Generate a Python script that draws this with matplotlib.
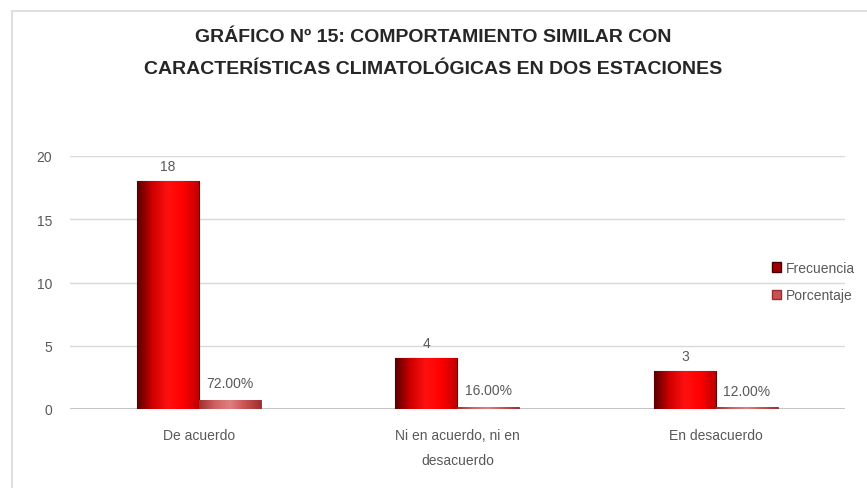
import numpy as np
import matplotlib
matplotlib.use("Agg")
from matplotlib import pyplot as plt
from matplotlib.patches import Rectangle

categories = ["De acuerdo", "Ni en acuerdo, ni en\ndesacuerdo", "En desacuerdo"]
frecuencia = [18, 4, 3]
porcentaje = [0.72, 0.16, 0.12]
porcentaje_labels = ["72.00%", "16.00%", "12.00%"]
y_ticks = [0, 5, 10, 15, 20]

plt.rcParams['font.family'] = ['Liberation Sans', 'DejaVu Sans']

fig = plt.figure(figsize=(8.67, 4.89), dpi=100)
fig.patches.append(Rectangle((12 / 867, -0.1), 1.2, 1 - 12 / 489 + 0.1,
                             transform=fig.transFigure, fill=False,
                             edgecolor="#d9d9d9", linewidth=1.2))

ax = fig.add_axes([70 / 867, 1 - 410 / 489, (845 - 70) / 867, (410 - 157) / 489])

x = np.arange(len(categories))
width = 0.24

bars_f = ax.bar(x - width / 2, frecuencia, width, color="#ff0000",
                edgecolor="#5a0000", linewidth=0.8, zorder=3, label="Frecuencia")
bars_p = ax.bar(x + width / 2, porcentaje, width, color="#c0504d",
                edgecolor="#8b2b2b", linewidth=0.6, zorder=3, label="Porcentaje")

# shading to mimic the cylinder-like look
grad = np.linspace(0, 1, 100).reshape(1, -1)
cmap_f = matplotlib.colors.LinearSegmentedColormap.from_list(
    "f", ["#5a0000", "#d00000", "#ff1010", "#ff0000", "#c00000"])
cmap_p = matplotlib.colors.LinearSegmentedColormap.from_list(
    "p", ["#a03030", "#d06060", "#e08080", "#c85050", "#a03030"])
for bars, cm in ((bars_f, cmap_f), (bars_p, cmap_p)):
    for b in bars:
        bx, by = b.get_x(), b.get_y()
        im = ax.imshow(grad, cmap=cm, aspect="auto", zorder=3.5,
                       extent=(bx, bx + b.get_width(), by, by + b.get_height()))
        im.set_clip_path(b)

for b, v in zip(bars_f, frecuencia):
    ax.annotate(str(v), (b.get_x() + b.get_width() / 2, v), xytext=(0, 6),
                textcoords="offset points", ha="center", va="bottom",
                fontsize=10, color="#595959")
for b, v, lab in zip(bars_p, porcentaje, porcentaje_labels):
    ax.annotate(lab, (b.get_x() + b.get_width() / 2, v), xytext=(0, 7),
                textcoords="offset points", ha="center", va="bottom",
                fontsize=10, color="#595959")

ax.set_xlim(-0.5, len(categories) - 0.5)
ax.set_ylim(0, 20)
ax.set_yticks(y_ticks)
ax.set_xticks(x)
ax.set_xticklabels(categories, fontsize=10, color="#595959", linespacing=2.0)
ax.tick_params(axis="y", labelsize=10, labelcolor="#595959", length=0, pad=13)
ax.tick_params(axis="x", length=0, pad=14)
ax.grid(axis="y", color="#d9d9d9", linewidth=1, zorder=0)
ax.axhline(0, color="#bfbfbf", linewidth=2, zorder=2)
for s in ax.spines.values():
    s.set_visible(False)

fig.text(0.5, 1 - 37 / 489, "GRÁFICO Nº 15: COMPORTAMIENTO SIMILAR CON",
         ha="center", va="center", fontsize=14, fontweight="bold", color="#262626")
fig.text(0.5, 1 - 70 / 489, "CARACTERÍSTICAS CLIMATOLÓGICAS EN DOS ESTACIONES",
         ha="center", va="center", fontsize=14, fontweight="bold", color="#262626")

handles = [Rectangle((0, 0), 1, 1, facecolor="#a00000", edgecolor="#400000"),
           Rectangle((0, 0), 1, 1, facecolor="#d05050", edgecolor="#903030")]
fig.legend(handles, ["Frecuencia", "Porcentaje"], loc="upper left",
           bbox_to_anchor=(766 / 867, 1 - 256 / 489), frameon=False,
           fontsize=10, labelcolor="#595959", handlelength=0.7, handleheight=0.7,
           handletextpad=0.3, labelspacing=1.0, borderaxespad=0)

fig.savefig("out.png", dpi=100)
